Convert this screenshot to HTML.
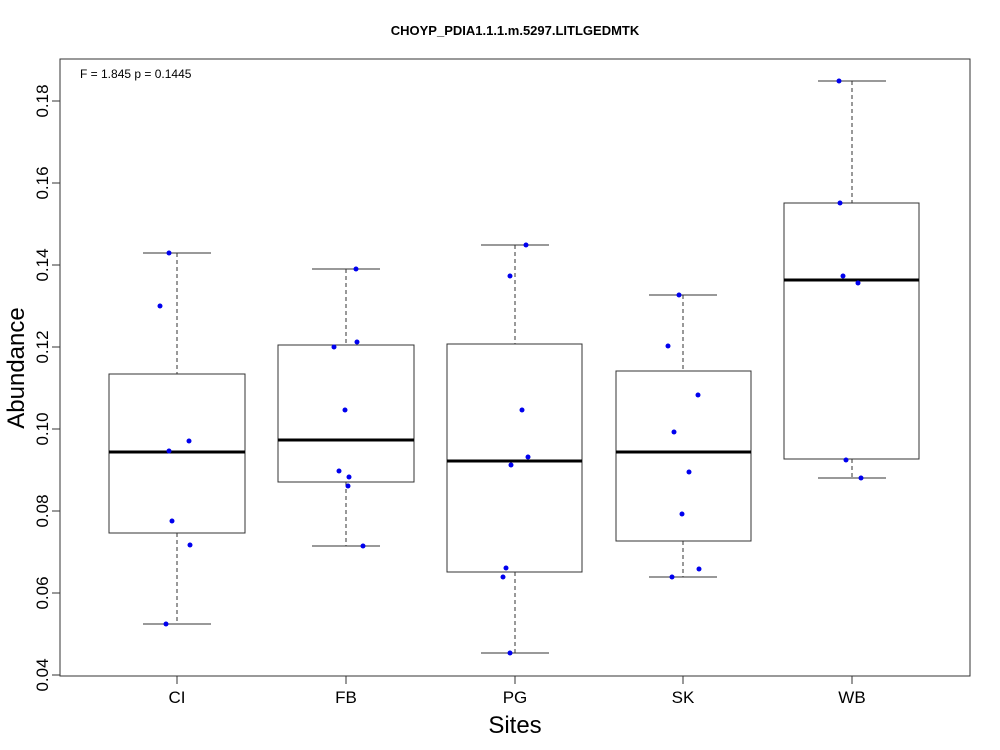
<!DOCTYPE html>
<html><head><style>body{margin:0;background:#fff}svg{display:block}</style></head><body>
<svg width="1000" height="750" xmlns="http://www.w3.org/2000/svg" font-family="Liberation Sans, sans-serif">
<rect width="1000" height="750" fill="#fff"/>
<text x="515" y="35" font-size="13" font-weight="bold" text-anchor="middle">CHOYP_PDIA1.1.1.m.5297.LITLGEDMTK</text>
<rect x="60" y="59" width="910" height="617" fill="none" stroke="#333" stroke-width="1"/>
<text x="80" y="78" font-size="12">F = 1.845 p = 0.1445</text>
<g stroke="#333" stroke-width="1">
<line x1="60" y1="101" x2="52" y2="101"/><line x1="60" y1="183" x2="52" y2="183"/><line x1="60" y1="265" x2="52" y2="265"/><line x1="60" y1="347" x2="52" y2="347"/><line x1="60" y1="429" x2="52" y2="429"/><line x1="60" y1="511" x2="52" y2="511"/><line x1="60" y1="593" x2="52" y2="593"/><line x1="60" y1="675" x2="52" y2="675"/>
<line x1="177" y1="676" x2="177" y2="684"/><line x1="346" y1="676" x2="346" y2="684"/><line x1="515" y1="676" x2="515" y2="684"/><line x1="683" y1="676" x2="683" y2="684"/><line x1="852" y1="676" x2="852" y2="684"/>
</g>
<g font-size="17" text-anchor="middle">
<text transform="translate(48,101) rotate(-90)">0.18</text>
<text transform="translate(48,183) rotate(-90)">0.16</text>
<text transform="translate(48,265) rotate(-90)">0.14</text>
<text transform="translate(48,347) rotate(-90)">0.12</text>
<text transform="translate(48,429) rotate(-90)">0.10</text>
<text transform="translate(48,511) rotate(-90)">0.08</text>
<text transform="translate(48,593) rotate(-90)">0.06</text>
<text transform="translate(48,675) rotate(-90)">0.04</text>
<text x="177" y="703">CI</text><text x="346" y="703">FB</text><text x="515" y="703">PG</text><text x="683" y="703">SK</text><text x="852" y="703">WB</text>
</g>
<text x="515" y="733" font-size="24" text-anchor="middle">Sites</text>
<text transform="translate(24,368) rotate(-90)" font-size="24" text-anchor="middle">Abundance</text>
<g stroke="#333" fill="none" stroke-width="1">
<line x1="177" y1="253" x2="177" y2="374" stroke-dasharray="4,3"/><line x1="177" y1="533" x2="177" y2="624" stroke-dasharray="4,3"/>
<line x1="143" y1="253" x2="211" y2="253"/><line x1="143" y1="624" x2="211" y2="624"/>
<rect x="109" y="374" width="136" height="159"/>
<line x1="109" y1="452" x2="245" y2="452" stroke="#000" stroke-width="3"/>
<line x1="346" y1="269" x2="346" y2="345" stroke-dasharray="4,3"/><line x1="346" y1="482" x2="346" y2="546" stroke-dasharray="4,3"/>
<line x1="312" y1="269" x2="380" y2="269"/><line x1="312" y1="546" x2="380" y2="546"/>
<rect x="278" y="345" width="136" height="137"/>
<line x1="278" y1="440" x2="414" y2="440" stroke="#000" stroke-width="3"/>
<line x1="515" y1="245" x2="515" y2="344" stroke-dasharray="4,3"/><line x1="515" y1="572" x2="515" y2="653" stroke-dasharray="4,3"/>
<line x1="481" y1="245" x2="549" y2="245"/><line x1="481" y1="653" x2="549" y2="653"/>
<rect x="447" y="344" width="135" height="228"/>
<line x1="447" y1="461" x2="582" y2="461" stroke="#000" stroke-width="3"/>
<line x1="683" y1="295" x2="683" y2="371" stroke-dasharray="4,3"/><line x1="683" y1="541" x2="683" y2="577" stroke-dasharray="4,3"/>
<line x1="649" y1="295" x2="717" y2="295"/><line x1="649" y1="577" x2="717" y2="577"/>
<rect x="616" y="371" width="135" height="170"/>
<line x1="616" y1="452" x2="751" y2="452" stroke="#000" stroke-width="3"/>
<line x1="852" y1="81" x2="852" y2="203" stroke-dasharray="4,3"/><line x1="852" y1="459" x2="852" y2="478" stroke-dasharray="4,3"/>
<line x1="818" y1="81" x2="886" y2="81"/><line x1="818" y1="478" x2="886" y2="478"/>
<rect x="784" y="203" width="135" height="256"/>
<line x1="784" y1="280" x2="919" y2="280" stroke="#000" stroke-width="3"/>
</g>
<g fill="#0000ee">
<circle cx="169" cy="253" r="2.5"/><circle cx="160" cy="306" r="2.5"/><circle cx="189" cy="441" r="2.5"/><circle cx="169" cy="451" r="2.5"/><circle cx="172" cy="521" r="2.5"/><circle cx="190" cy="545" r="2.5"/><circle cx="166" cy="624" r="2.5"/>
<circle cx="356" cy="269" r="2.5"/><circle cx="357" cy="342" r="2.5"/><circle cx="334" cy="347" r="2.5"/><circle cx="345" cy="410" r="2.5"/><circle cx="339" cy="471" r="2.5"/><circle cx="349" cy="477" r="2.5"/><circle cx="348" cy="486" r="2.5"/><circle cx="363" cy="546" r="2.5"/>
<circle cx="526" cy="245" r="2.5"/><circle cx="510" cy="276" r="2.5"/><circle cx="522" cy="410" r="2.5"/><circle cx="528" cy="457" r="2.5"/><circle cx="511" cy="465" r="2.5"/><circle cx="506" cy="568" r="2.5"/><circle cx="503" cy="577" r="2.5"/><circle cx="510" cy="653" r="2.5"/>
<circle cx="679" cy="295" r="2.5"/><circle cx="668" cy="346" r="2.5"/><circle cx="698" cy="395" r="2.5"/><circle cx="674" cy="432" r="2.5"/><circle cx="689" cy="472" r="2.5"/><circle cx="682" cy="514" r="2.5"/><circle cx="699" cy="569" r="2.5"/><circle cx="672" cy="577" r="2.5"/>
<circle cx="839" cy="81" r="2.5"/><circle cx="840" cy="203" r="2.5"/><circle cx="843" cy="276" r="2.5"/><circle cx="858" cy="283" r="2.5"/><circle cx="846" cy="460" r="2.5"/><circle cx="861" cy="478" r="2.5"/>
</g>
</svg>
</body></html>
